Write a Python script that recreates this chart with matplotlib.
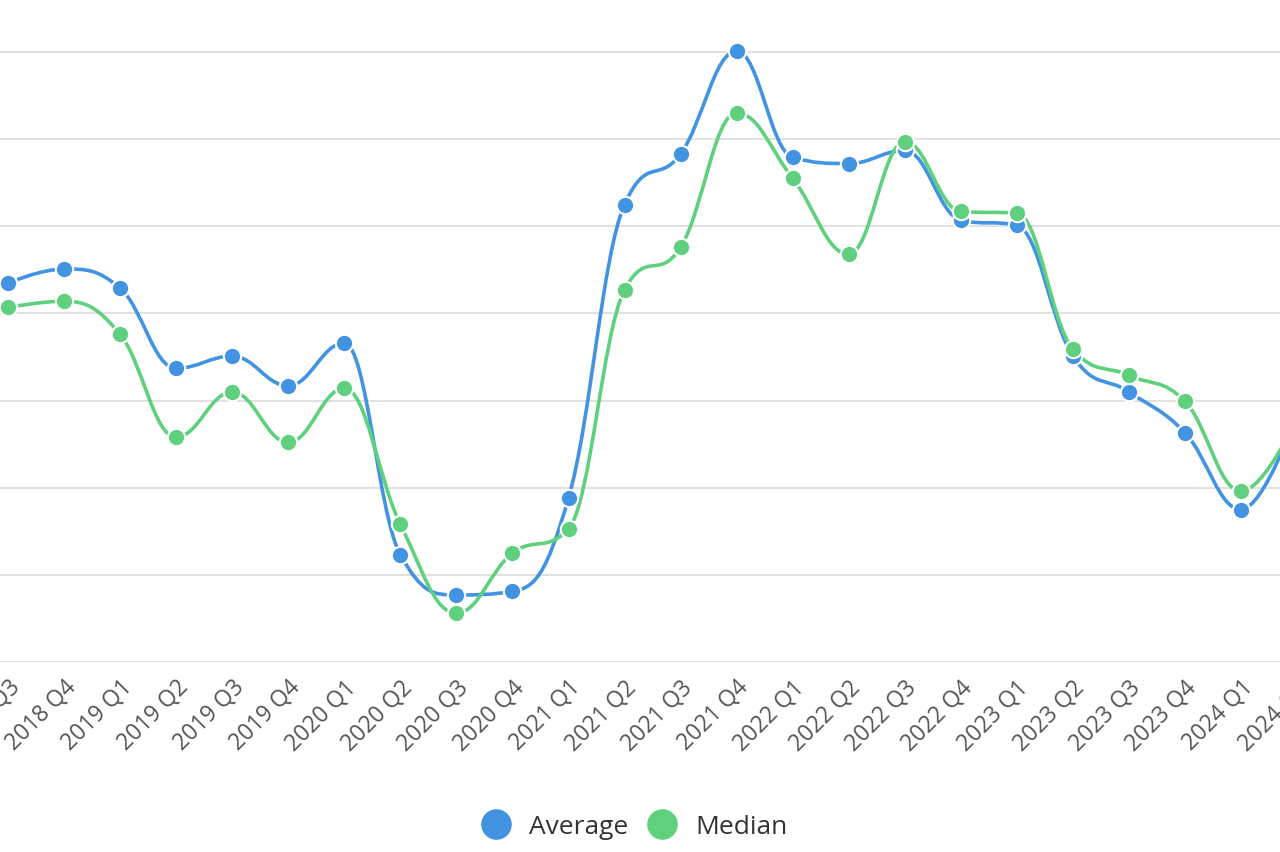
import matplotlib.pyplot as plt
from matplotlib.path import Path
from matplotlib.patches import PathPatch
from matplotlib.lines import Line2D

quarters = ["2018 Q3", "2018 Q4", "2019 Q1", "2019 Q2", "2019 Q3", "2019 Q4",
            "2020 Q1", "2020 Q2", "2020 Q3", "2020 Q4", "2021 Q1", "2021 Q2",
            "2021 Q3", "2021 Q4", "2022 Q1", "2022 Q2", "2022 Q3", "2022 Q4",
            "2023 Q1", "2023 Q2", "2023 Q3", "2023 Q4", "2024 Q1", "2024 Q2"]
average = [4.35, 4.51, 4.29, 3.37, 3.51, 3.17, 3.66, 1.23, 0.77, 0.81, 1.88, 5.25,
           5.83, 7.01, 5.79, 5.72, 5.87, 5.07, 5.01, 3.51, 3.10, 2.63, 1.75, 2.85]
median = [4.07, 4.14, 3.76, 2.58, 3.10, 2.52, 3.14, 1.58, 0.56, 1.25, 1.53, 4.27,
          4.76, 6.30, 5.55, 4.68, 5.97, 5.17, 5.15, 3.59, 3.29, 2.99, 1.96, 2.80]

BLUE = "#4393e3"
GREEN = "#5fd07e"


def spline_path(xs, ys, smoothing=1.5):
    # bezier control points, same idea as highcharts "spline"
    denom = smoothing + 1
    n = len(xs)
    ctrl = []
    for i in range(n):
        x, y = xs[i], ys[i]
        if i == 0 or i == n - 1:
            ctrl.append((x, y, x, y))
            continue
        lx, ly = xs[i - 1], ys[i - 1]
        nx, ny = xs[i + 1], ys[i + 1]
        lcx = (smoothing * x + lx) / denom
        lcy = (smoothing * y + ly) / denom
        rcx = (smoothing * x + nx) / denom
        rcy = (smoothing * y + ny) / denom
        corr = 0
        if rcx != lcx:
            corr = (rcy - lcy) * (rcx - x) / (rcx - lcx) + y - rcy
        lcy += corr
        rcy += corr
        if lcy > ly and lcy > y:
            lcy = max(ly, y)
            rcy = 2 * y - lcy
        elif lcy < ly and lcy < y:
            lcy = min(ly, y)
            rcy = 2 * y - lcy
        if rcy > ny and rcy > y:
            rcy = max(ny, y)
            lcy = 2 * y - rcy
        elif rcy < ny and rcy < y:
            rcy = min(ny, y)
            lcy = 2 * y - rcy
        ctrl.append((lcx, lcy, rcx, rcy))
    verts = [(xs[0], ys[0])]
    codes = [Path.MOVETO]
    for i in range(1, n):
        verts += [(ctrl[i - 1][2], ctrl[i - 1][3]), (ctrl[i][0], ctrl[i][1]), (xs[i], ys[i])]
        codes += [Path.CURVE4] * 3
    return Path(verts, codes)


plt.rcParams['font.family'] = ['Open Sans', 'DejaVu Sans']

fig = plt.figure(figsize=(12.8, 8.52), dpi=100)
ax = fig.add_axes([0, 1 - 662 / 852, 1, 662 / 852])

xs = list(range(len(quarters)))

for vals, col in [(average, BLUE), (median, GREEN)]:
    ax.add_patch(PathPatch(spline_path(xs, vals), facecolor="none", edgecolor=col,
                           lw=2.6, zorder=3, capstyle="round", joinstyle="round"))
    ax.plot(xs, vals, linestyle="none", marker="o", markersize=12.5, color=col,
            markeredgecolor="white", markeredgewidth=1.5, zorder=4)

ax.set_yticks(range(0, 8))
ax.yaxis.grid(True, color="#dedede", lw=1.3)
ax.set_axisbelow(True)
ax.tick_params(axis="y", left=False, labelleft=False)
ax.set_xticks(xs)
ax.set_xticklabels(quarters, rotation=45, ha="right", rotation_mode="anchor",
                   fontsize=16.5, color="#555555")
ax.tick_params(axis="x", length=0, pad=10)
for s in ax.spines.values():
    s.set_visible(False)

# the plot is wider than the picture, so both ends get cut off
step = 56.05
ax.set_xlim(-8 / step, (1280 - 8) / step)
ax.set_ylim(0, 662 / 87.14)

# last tick sits past the right edge, matplotlib drops its label, so put it back by hand
ax.annotate(quarters[-1], xy=(xs[-1], 0), xycoords="data", xytext=(0, -10),
            textcoords="offset points", rotation=45, rotation_mode="anchor",
            ha="right", va="top", fontsize=16.5, color="#555555", annotation_clip=False)

handles = [Line2D([], [], linestyle="none", marker="o", markersize=21, color=BLUE),
           Line2D([], [], linestyle="none", marker="o", markersize=21, color=GREEN)]
fig.legend(handles, ["Average", "Median"], loc="center", bbox_to_anchor=(0.491, 1 - 827 / 852),
           ncol=2, frameon=False, fontsize=19, labelcolor="#333333",
           handletextpad=0.25, columnspacing=0.3)

fig.savefig("out.png", dpi=100)
